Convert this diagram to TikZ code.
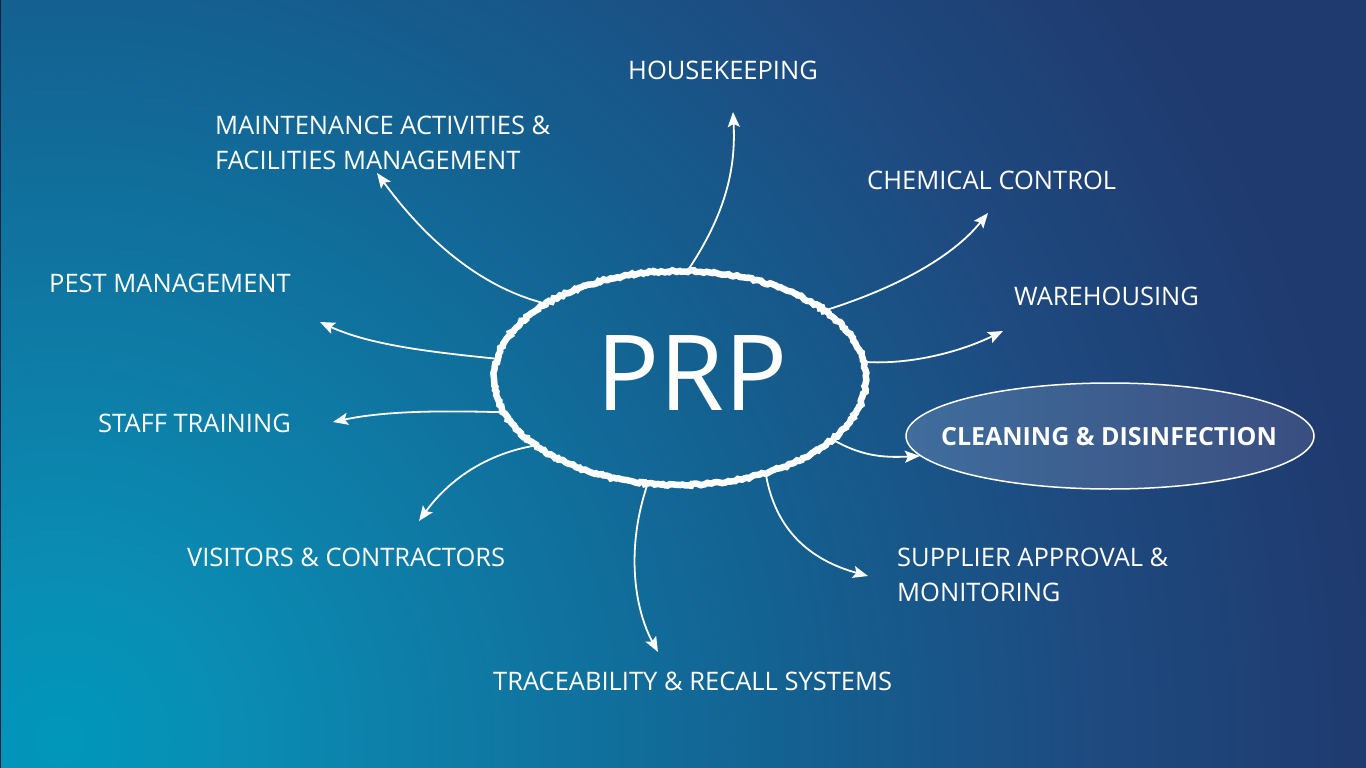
\documentclass[tikz,border=0pt]{standalone}
\usepackage{fontspec}
\setmainfont{Open Sans}
\usetikzlibrary{shapes.geometric,arrows.meta,decorations.pathmorphing}

\definecolor{bgnavy}{HTML}{1F3A6E}
\definecolor{bgdeep}{HTML}{1E4A80}
\definecolor{bgmid}{HTML}{145F8F}
\definecolor{bglight}{HTML}{0A8DB4}
\definecolor{bgteal}{HTML}{0097BB}
\definecolor{ovalleft}{HTML}{3F6D9C}
\definecolor{ovalright}{HTML}{3A4E80}
\pgfdeclareradialshading{bgglow}{\pgfpoint{0bp}{0bp}}{color(0bp)=(bgteal); color(3bp)=(bglight); color(13.5bp)=(bgmid); color(18.5bp)=(bgdeep); color(23.5bp)=(bgnavy); color(50bp)=(bgnavy)}

\begin{document}
\begin{tikzpicture}[x=1pt, y=-1pt,
	lbl/.style={text=white, font=\fontsize{25.5}{35}\selectfont, anchor=base west, align=left, inner sep=0pt},
	arr/.style={white, line width=1.8pt, -{Stealth[length=15pt, width=12pt, inset=3pt]}},
	chalk/.style={white, line width=6.5pt, decorate, decoration={random steps, segment length=2.5pt, amplitude=1.1pt}}]
				\pgfmathsetseed{7}
				\useasboundingbox (0,0) rectangle (1366,768);
				\begin{scope}
					\clip (0,0) rectangle (1366,768);
					\fill [bgnavy] (0,0) rectangle (1366,768);
					\shade [shading=bgglow] (60,740) circle [radius=1400pt];
				\end{scope}
				\draw [bgnavy!60!black, line width=1pt] (0,0) rectangle (1366,768);

				% centre oval
				\node [ellipse, minimum width=372pt, minimum height=214pt, inner sep=0pt] (prp) at (680,378) {};
				\draw [chalk] (prp.center) ellipse [x radius=186pt, y radius=107pt];
				\node [text=white, font=\fontsize{105}{105}\selectfont, inner sep=0pt] (prptxt) at (692,373) {PRP};

				\node [ellipse, draw=white, line width=1.5pt, left color=ovalleft, right color=ovalright, minimum width=408pt, minimum height=106pt, inner sep=0pt] (clean) at (1110,436) {};
				\node [text=white, font=\fontsize{25}{35}\selectfont\bfseries, inner sep=0pt] (cleantxt) at (1109,437) {CLEANING \& DISINFECTION};

				% labels
				\node [lbl] (hklbl) at (628,80) {HOUSEKEEPING};
				\node [lbl] (mtlbl) at (215,169) {MAINTENANCE ACTIVITIES \&\\FACILITIES MANAGEMENT};
				\node [lbl] (cclbl) at (867,189) {CHEMICAL CONTROL};
				\node [lbl] (pmlbl) at (49,292) {PEST MANAGEMENT};
				\node [lbl] (whlbl) at (1014,305) {WAREHOUSING};
				\node [lbl] (stlbl) at (98,432) {STAFF TRAINING};
				\node [lbl] (vclbl) at (187,566) {VISITORS \& CONTRACTORS};
				\node [lbl] (salbl) at (897,601) {SUPPLIER APPROVAL \&\\MONITORING};
				\node [lbl] (trlbl) at (493,690) {TRACEABILITY \& RECALL SYSTEMS};

				% arrow tips
				\coordinate (hk) at (733,112);
				\coordinate (mt) at (377,173);
				\coordinate (cc) at (988,213);
				\coordinate (pm) at (320,322);
				\coordinate (wh) at (1003,331);
				\coordinate (st) at (333,422);
				\coordinate (vc) at (419,521);
				\coordinate (sa) at (868,576);
				\coordinate (tr) at (658,652);

				\draw [arr] (prp.86) .. controls (725,215) and (736,170) .. (hk);
				\draw [arr] (prp.151) .. controls (470,285) and (415,225) .. (mt);
				\draw [arr] (prp.25) .. controls (890,290) and (950,260) .. (cc);
				\draw [arr] (prp.174) .. controls (430,352) and (370,345) .. (pm);
				\draw [arr] (prp.5) .. controls (910,365) and (960,352) .. (wh);
				\draw [arr] (prp.191) .. controls (430,410) and (380,412) .. (st);
				\draw [arr] (prp.205) .. controls (480,455) and (445,485) .. (vc);
				\draw [arr] (prp.338) .. controls (860,455) and (880,458) .. (clean.186);
				\draw [arr] (prp.312) .. controls (775,530) and (810,560) .. (sa);
				\draw [arr] (prp.253) .. controls (625,550) and (635,610) .. (tr);
			\end{tikzpicture}
\end{document}
